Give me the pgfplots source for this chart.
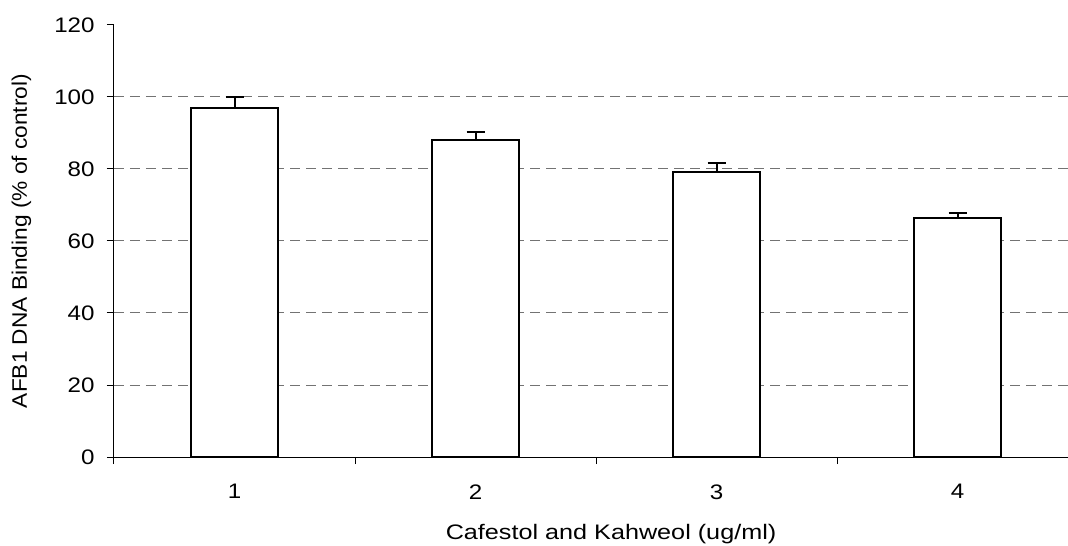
\documentclass[border=0pt]{standalone}
\usepackage{fontspec}
\setmainfont{Liberation Sans}[FakeStretch=1.15]
\newfontfamily\ylabfont{Liberation Sans}[FakeStretch=1.08]
\newfontfamily\xlabfont{Liberation Sans}[FakeStretch=1.2]
\usepackage{pgfplots}
\pgfplotsset{compat=1.18}
\pgfplotstableread{
x y e
1 97.0 3.0
2 88.1 2.3
3 79.3 2.3
4 66.3 1.6
}\datatable
\begin{document}
\fontsize{10.5}{12}\selectfont
\begin{tikzpicture}
\begin{axis}[
  scale only axis, width=477pt, height=216pt,
  xmin=0.5, xmax=4.4585, ymin=0, ymax=120,
  axis lines=left, axis line style={-, line width=0.5pt, black},
  ybar, bar width=0.357,
  ytick={0,20,...,120},
  xtick={0.5,1.5,2.5,3.5}, xticklabels={},
  extra x ticks={1,2,3,4}, extra x tick labels={1,2,3,4},
  extra x tick style={major tick length=0pt, xticklabel style={yshift=-10pt}},
  extra y ticks={20,40,60,80,100}, extra y tick labels={},
  extra y tick style={grid=major},
  major grid style={black!55, dash pattern=on 5pt off 3pt, line width=0.5pt},
  tick align=outside, major tick length=3.5pt,
  tick style={black, line width=0.5pt},
  /pgf/number format/assume math mode=true,
  ticklabel style={font=\fontsize{10.5}{12}\selectfont},
  yticklabel style={xshift=-2.5pt},
  xlabel={Cafestol and Kahweol (ug/ml)},
  ylabel={AFB1 DNA Binding (\% of control)},
  xlabel style={font=\xlabfont\fontsize{10.5}{12}\selectfont, at={(axis description cs:0.521,-0.1921)}, anchor=base},
  ylabel style={font=\ylabfont\fontsize{10.5}{12}\selectfont, at={(axis description cs:-0.0912,0.5)}, anchor=base},
]
\addplot[fill=white, draw=black, line width=1pt,
  error bars/.cd, y dir=plus, y explicit,
  error bar style={line width=1pt, black},
  error mark options={rotate=90, mark size=4.5pt, line width=1pt, black}]
  table[x=x, y=y, y error=e] {\datatable};
\end{axis}
\pgfresetboundingbox
\path[use as bounding box] (current axis.south west) ++(-57pt,-44pt) rectangle ++(534pt,272.5pt);
\end{tikzpicture}
\end{document}
